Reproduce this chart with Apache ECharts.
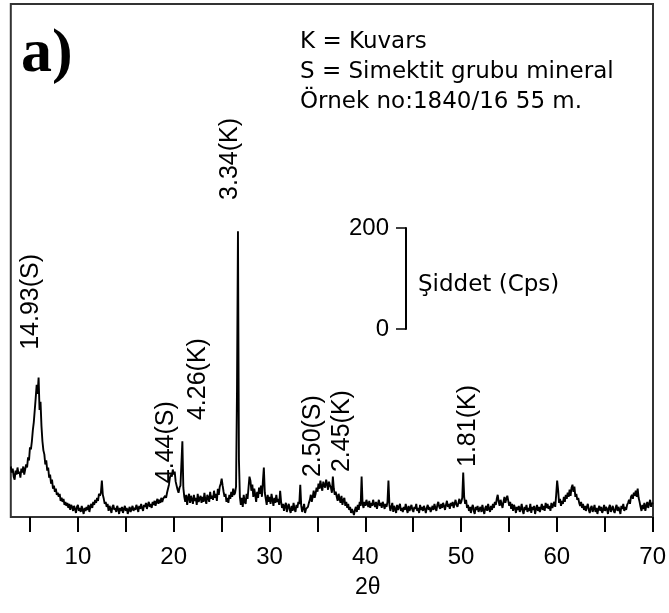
<!DOCTYPE html>
<html>
<head>
<meta charset="utf-8">
<script src="https://cdn.jsdelivr.net/npm/echarts@6/dist/echarts.min.js"></script>
<style>
html,body{margin:0;padding:0;background:#fff;}
#chart{width:669px;height:613px;}
</style>
</head>
<body>
<div id="chart"></div>
<script>
// 2θ (degrees), one row per degree
const twoTheta = [
3.0,3.1,3.2,3.3,3.4,3.5,3.6,3.7,3.8,3.9,
4.0,4.1,4.2,4.3,4.4,4.5,4.6,4.7,4.8,4.9,
5.0,5.1,5.2,5.3,5.4,5.5,5.6,5.7,5.8,5.9,
6.0,6.1,6.2,6.3,6.4,6.5,6.6,6.7,6.8,6.9,
7.0,7.1,7.2,7.3,7.4,7.5,7.6,7.7,7.8,7.9,
8.0,8.1,8.2,8.3,8.4,8.5,8.6,8.7,8.8,8.9,
9.0,9.1,9.2,9.3,9.4,9.5,9.6,9.7,9.8,9.9,
10.0,10.1,10.2,10.3,10.4,10.5,10.6,10.7,10.8,10.9,
11.0,11.1,11.2,11.3,11.4,11.5,11.6,11.7,11.8,11.9,
12.0,12.1,12.2,12.3,12.4,12.5,12.6,12.7,12.8,12.9,
13.0,13.1,13.2,13.3,13.4,13.5,13.6,13.7,13.8,13.9,
14.0,14.1,14.2,14.3,14.4,14.5,14.6,14.7,14.8,14.9,
15.0,15.1,15.2,15.3,15.4,15.5,15.6,15.7,15.8,15.9,
16.0,16.1,16.2,16.3,16.4,16.5,16.6,16.7,16.8,16.9,
17.0,17.1,17.2,17.3,17.4,17.5,17.6,17.7,17.8,17.9,
18.0,18.1,18.2,18.3,18.4,18.5,18.6,18.7,18.8,18.9,
19.0,19.1,19.2,19.3,19.4,19.5,19.6,19.7,19.8,19.9,
20.0,20.1,20.2,20.3,20.4,20.5,20.6,20.7,20.8,20.9,
21.0,21.1,21.2,21.3,21.4,21.5,21.6,21.7,21.8,21.9,
22.0,22.1,22.2,22.3,22.4,22.5,22.6,22.7,22.8,22.9,
23.0,23.1,23.2,23.3,23.4,23.5,23.6,23.7,23.8,23.9,
24.0,24.1,24.2,24.3,24.4,24.5,24.6,24.7,24.8,24.9,
25.0,25.1,25.2,25.3,25.4,25.5,25.6,25.7,25.8,25.9,
26.0,26.1,26.2,26.3,26.4,26.5,26.6,26.7,26.8,26.9,
27.0,27.1,27.2,27.3,27.4,27.5,27.6,27.7,27.8,27.9,
28.0,28.1,28.2,28.3,28.4,28.5,28.6,28.7,28.8,28.9,
29.0,29.1,29.2,29.3,29.4,29.5,29.6,29.7,29.8,29.9,
30.0,30.1,30.2,30.3,30.4,30.5,30.6,30.7,30.8,30.9,
31.0,31.1,31.2,31.3,31.4,31.5,31.6,31.7,31.8,31.9,
32.0,32.1,32.2,32.3,32.4,32.5,32.6,32.7,32.8,32.9,
33.0,33.1,33.2,33.3,33.4,33.5,33.6,33.7,33.8,33.9,
34.0,34.1,34.2,34.3,34.4,34.5,34.6,34.7,34.8,34.9,
35.0,35.1,35.2,35.3,35.4,35.5,35.6,35.7,35.8,35.9,
36.0,36.1,36.2,36.3,36.4,36.5,36.6,36.7,36.8,36.9,
37.0,37.1,37.2,37.3,37.4,37.5,37.6,37.7,37.8,37.9,
38.0,38.1,38.2,38.3,38.4,38.5,38.6,38.7,38.8,38.9,
39.0,39.1,39.2,39.3,39.4,39.5,39.6,39.7,39.8,39.9,
40.0,40.1,40.2,40.3,40.4,40.5,40.6,40.7,40.8,40.9,
41.0,41.1,41.2,41.3,41.4,41.5,41.6,41.7,41.8,41.9,
42.0,42.1,42.2,42.3,42.4,42.5,42.6,42.7,42.8,42.9,
43.0,43.1,43.2,43.3,43.4,43.5,43.6,43.7,43.8,43.9,
44.0,44.1,44.2,44.3,44.4,44.5,44.6,44.7,44.8,44.9,
45.0,45.1,45.2,45.3,45.4,45.5,45.6,45.7,45.8,45.9,
46.0,46.1,46.2,46.3,46.4,46.5,46.6,46.7,46.8,46.9,
47.0,47.1,47.2,47.3,47.4,47.5,47.6,47.7,47.8,47.9,
48.0,48.1,48.2,48.3,48.4,48.5,48.6,48.7,48.8,48.9,
49.0,49.1,49.2,49.3,49.4,49.5,49.6,49.7,49.8,49.9,
50.0,50.1,50.2,50.3,50.4,50.5,50.6,50.7,50.8,50.9,
51.0,51.1,51.2,51.3,51.4,51.5,51.6,51.7,51.8,51.9,
52.0,52.1,52.2,52.3,52.4,52.5,52.6,52.7,52.8,52.9,
53.0,53.1,53.2,53.3,53.4,53.5,53.6,53.7,53.8,53.9,
54.0,54.1,54.2,54.3,54.4,54.5,54.6,54.7,54.8,54.9,
55.0,55.1,55.2,55.3,55.4,55.5,55.6,55.7,55.8,55.9,
56.0,56.1,56.2,56.3,56.4,56.5,56.6,56.7,56.8,56.9,
57.0,57.1,57.2,57.3,57.4,57.5,57.6,57.7,57.8,57.9,
58.0,58.1,58.2,58.3,58.4,58.5,58.6,58.7,58.8,58.9,
59.0,59.1,59.2,59.3,59.4,59.5,59.6,59.7,59.8,59.9,
60.0,60.1,60.2,60.3,60.4,60.5,60.6,60.7,60.8,60.9,
61.0,61.1,61.2,61.3,61.4,61.5,61.6,61.7,61.8,61.9,
62.0,62.1,62.2,62.3,62.4,62.5,62.6,62.7,62.8,62.9,
63.0,63.1,63.2,63.3,63.4,63.5,63.6,63.7,63.8,63.9,
64.0,64.1,64.2,64.3,64.4,64.5,64.6,64.7,64.8,64.9,
65.0,65.1,65.2,65.3,65.4,65.5,65.6,65.7,65.8,65.9,
66.0,66.1,66.2,66.3,66.4,66.5,66.6,66.7,66.8,66.9,
67.0,67.1,67.2,67.3,67.4,67.5,67.6,67.7,67.8,67.9,
68.0,68.1,68.2,68.3,68.4,68.5,68.6,68.7,68.8,68.9,
69.0,69.1,69.2,69.3,69.4,69.5,69.6,69.7,69.8,69.9,
70.0
];
// intensity (cps), same rows as twoTheta
const counts = [
100,88,96,80,74,92,84,98,86,90,
78,96,88,100,84,94,104,98,118,112,
138,134,150,172,188,212,236,262,244,276,
212,228,180,150,132,124,104,112,92,98,
78,84,66,74,56,62,50,56,44,48,
40,46,32,38,30,36,24,30,22,28,
18,26,14,24,20,12,22,16,8,20,
24,12,18,10,22,14,6,18,12,20,
14,24,10,20,26,18,30,24,34,28,
38,32,46,42,48,72,44,36,26,30,
20,26,12,22,16,8,20,24,14,18,
10,22,16,6,18,12,20,8,16,22,
12,18,6,14,20,10,16,22,12,18,
14,24,18,10,22,16,26,18,12,24,
20,28,16,24,30,20,26,18,30,24,
32,22,30,36,26,34,28,38,30,36,
34,42,38,48,56,64,78,84,80,94,
84,90,70,62,54,48,58,62,60,150,
58,40,30,44,24,38,46,28,42,34,
26,44,32,38,24,46,30,36,42,28,
40,30,48,34,26,44,38,30,50,36,
42,34,52,38,46,32,56,44,60,66,
76,62,50,40,46,30,38,28,44,36,
50,40,56,44,48,60,250,566,114,40,
24,38,20,44,30,26,46,36,58,80,
72,52,64,40,56,44,30,50,38,58,
46,62,40,70,98,48,36,24,44,30,
40,26,46,34,22,38,28,44,30,36,
24,52,30,18,26,12,22,28,10,20,
26,14,8,22,12,28,16,10,24,18,
30,26,64,22,10,18,26,8,16,14,
20,28,34,44,30,40,52,38,46,58,
50,66,56,72,60,52,70,62,58,74,
66,54,70,62,58,48,80,56,44,50,
40,32,46,36,28,42,24,34,38,22,
30,18,26,14,20,8,16,10,4,14,
20,10,24,14,30,22,80,26,18,30,
22,34,26,20,32,18,28,22,34,26,
20,30,16,26,34,22,28,18,30,24,
16,26,20,30,72,24,12,20,28,10,
22,16,8,24,14,20,26,12,18,10,
20,14,26,16,8,22,12,18,24,14,
10,20,16,26,12,18,8,24,14,20,
12,22,16,8,18,24,14,20,10,16,
22,14,26,18,12,24,30,20,16,26,
18,28,22,14,24,32,20,26,16,28,
22,30,18,26,34,24,20,28,36,26,
30,38,88,40,26,34,18,24,12,20,
8,18,24,12,6,20,14,22,10,16,
20,10,24,14,6,18,22,12,26,16,
10,22,14,26,18,30,24,36,44,30,
22,34,26,18,30,40,28,36,42,32,
22,30,16,26,12,24,18,8,20,14,
22,10,16,26,12,6,20,14,24,10,
18,12,26,8,20,14,22,6,16,24,
12,20,10,18,26,14,22,12,28,18,
26,16,22,12,28,18,24,30,20,44,
72,54,28,36,22,32,26,40,30,44,
36,48,40,54,42,58,64,50,60,40,
46,34,38,28,22,30,18,26,14,22,
12,20,26,14,8,18,22,10,16,24,
10,18,6,16,22,12,20,8,14,24,
12,20,16,6,18,24,10,16,22,12,
8,18,24,12,20,14,6,22,16,26,
12,20,14,24,28,34,26,40,44,36,
48,42,52,40,56,38,30,20,12,24,
16,28,12,22,30,18,26,34,20,28,
26
];
// x-axis tick labels
const tickLabels = [10, 20, 30, 40, 50, 60, 70];
// peak annotations (text, anchor 2θ, anchor cps)
const peakNames = ['14.93(S)', '4.44(S)', '4.26(K)', '3.34(K)', '2.50(S)', '2.45(K)', '1.81(K)'];
const peakLabelX = [5.16, 19.16, 22.53, 25.87, 34.52, 37.52, 50.70];
const peakLabelY = [331, 67, 192, 628, 79, 89, 99];
// legend lines
const legendLines = ['K = Kuvars', 'S = Simektit grubu mineral', 'Örnek no:1840/16 55 m.'];
// intensity scale bar
const scaleTicks = [0, 200];

const FONT = '"DejaVu Sans", "Liberation Sans", Arial, sans-serif';
const NUMFONT = '"Liberation Sans", Arial, sans-serif';
const chart = echarts.init(document.getElementById('chart'), null, {renderer: 'canvas'});
const traceData = twoTheta.map((t, i) => [t, counts[i]]);
const labelData = peakNames.map((n, i) => ({name: n, value: [peakLabelX[i], peakLabelY[i]]}));

chart.setOption({
  animation: false,
  backgroundColor: '#fff',
  grid: [
    {left: 10.8, right: 16, top: 4, bottom: 96, show: true, borderColor: '#333', borderWidth: 2},
    {left: 30, right: 16, top: 4, bottom: 96},
    {left: 406, width: 1, top: 228, height: 101}
  ],
  xAxis: [
    {gridIndex: 0, type: 'value', min: 3, max: 70, show: false},
    {gridIndex: 1, type: 'value', min: 5, max: 70, interval: 5,
     axisLine: {show: true, lineStyle: {color: '#333', width: 2}},
     axisTick: {show: true, length: 15, lineStyle: {color: '#000', width: 2}},
     axisLabel: {color: '#000', fontFamily: NUMFONT, fontSize: 24, margin: 28,
       formatter: v => tickLabels.indexOf(v) >= 0 ? String(v) : ''},
     splitLine: {show: false}},
    {gridIndex: 2, type: 'value', min: 0, max: 1, show: false}
  ],
  yAxis: [
    {gridIndex: 0, type: 'value', min: 0, max: 1016, show: false},
    {gridIndex: 1, type: 'value', min: 0, max: 1, show: false},
    {gridIndex: 2, type: 'value', min: scaleTicks[0], max: scaleTicks[1], interval: 200,
     axisLine: {show: true, lineStyle: {color: '#000', width: 2}},
     axisTick: {show: true, length: 10, lineStyle: {color: '#000', width: 1.5}},
     axisLabel: {color: '#000', fontFamily: NUMFONT, fontSize: 24, margin: 17},
     splitLine: {show: false}}
  ],
  series: [
    {type: 'line', xAxisIndex: 0, yAxisIndex: 0, data: traceData, showSymbol: false,
     lineStyle: {color: '#000', width: 1.9}, silent: true},
    {type: 'scatter', xAxisIndex: 0, yAxisIndex: 0, data: labelData, symbolSize: 0, silent: true,
     itemStyle: {opacity: 1},
     label: {show: true, position: 'inside', rotate: 90, align: 'left', verticalAlign: 'middle', opacity: 1,
       formatter: p => p.name, color: '#000', fontFamily: NUMFONT, fontSize: 25}}
  ],
  graphic: [
    {type: 'text', left: 21, top: 24, style: {text: 'a)', font: 'bold 62px "Liberation Serif", "Times New Roman", serif', fill: '#000'}},
    {type: 'text', left: 300, top: 27, style: {text: legendLines.join('\n'), font: '23px ' + FONT, fill: '#000', lineHeight: 30}},
    {type: 'text', left: 418, top: 274, style: {text: 'Şiddet (Cps)', font: '23px ' + FONT, fill: '#000'}},
    {type: 'text', left: 355, top: 576, style: {text: '2θ', font: '23px ' + NUMFONT, fill: '#000'}}
  ]
});
</script>
</body>
</html>
